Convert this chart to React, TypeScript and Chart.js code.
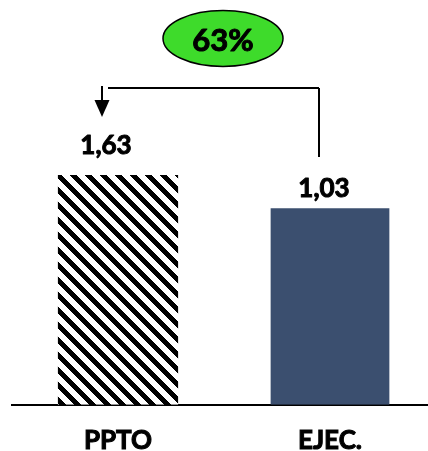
import React, { useEffect, useRef } from "react";
import { Chart, registerables } from "chart.js";

Chart.register(...registerables);

const categories = ["PPTO", "EJEC."];
const pptoValues = [1.63, null];
const ejecValues = [null, 1.03];
const valueLabels = ["1,63", "1,03"];

const FONT_FAMILY = "Lato";

function makeHatch(): CanvasPattern | string {
  const size = 15;
  const c = document.createElement("canvas");
  c.width = size;
  c.height = size;
  const ctx = c.getContext("2d");
  if (!ctx) return "#000";
  const img = ctx.createImageData(size, size);
  for (let y = 0; y < size; y++) {
    for (let x = 0; x < size; x++) {
      const k = (((x - y) % size) + size) % size;
      const black = k < 7;
      const i = (y * size + x) * 4;
      const v = black ? 0 : 255;
      img.data[i] = v;
      img.data[i + 1] = v;
      img.data[i + 2] = v;
      img.data[i + 3] = 255;
    }
  }
  ctx.putImageData(img, 0, 0);
  const main = document.createElement("canvas").getContext("2d");
  const p = main ? main.createPattern(c, "repeat") : null;
  return p || "#000";
}

function boldText(ctx: CanvasRenderingContext2D, t: string, x: number, y: number) {
  ctx.lineWidth = 1;
  ctx.strokeStyle = "#000";
  ctx.lineJoin = "round";
  ctx.strokeText(t, x, y);
  ctx.fillText(t, x, y);
}

const annotPlugin = {
  id: "annot",
  afterDraw(chart: any) {
    const ctx = chart.ctx;
    const xs = chart.scales.x;
    const xA = xs.getPixelForValue(0);
    const xB = xs.getPixelForValue(1);
    const m0 = chart.getDatasetMeta(0).data[0];
    const m1 = chart.getDatasetMeta(1).data[1];
    ctx.save();
    ctx.fillStyle = "#000";
    ctx.font = `bold 26px ${FONT_FAMILY}`;
    ctx.textAlign = "center";
    ctx.textBaseline = "alphabetic";
    if (m0) boldText(ctx, valueLabels[0], m0.x - 12, m0.y - 21);
    if (m1) boldText(ctx, valueLabels[1], m1.x - 6, m1.y - 11);

    // connector
    const lineY = 88;
    const arrowX = xA - 16;
    const vertX = xB - 11;
    ctx.strokeStyle = "#000";
    ctx.lineWidth = 2;
    ctx.beginPath();
    ctx.moveTo(arrowX + 6, lineY);
    ctx.lineTo(vertX, lineY);
    ctx.moveTo(vertX, lineY);
    ctx.lineTo(vertX, 157);
    ctx.moveTo(arrowX, lineY - 2);
    ctx.lineTo(arrowX, 102);
    ctx.stroke();
    ctx.beginPath();
    ctx.moveTo(arrowX - 7.5, 100);
    ctx.lineTo(arrowX + 7.5, 100);
    ctx.lineTo(arrowX, 117);
    ctx.closePath();
    ctx.fill();

    // ellipse
    const cx = (xA + xB) / 2 - 1;
    const cy = 38.5;
    ctx.beginPath();
    ctx.ellipse(cx, cy, 60, 28, 0, 0, Math.PI * 2);
    ctx.fillStyle = "#3EDB2B";
    ctx.fill();
    ctx.lineWidth = 1.5;
    ctx.strokeStyle = "#000";
    ctx.stroke();
    const pct = Math.round(((ejecValues[1] as number) / (pptoValues[0] as number)) * 100);
    ctx.fillStyle = "#000";
    ctx.font = `bold 31px ${FONT_FAMILY}`;
    ctx.textBaseline = "middle";
    boldText(ctx, pct + "%", cx, cy + 2);
    ctx.restore();
  },
};

export default function App() {
  const ref = useRef<HTMLCanvasElement>(null);
  useEffect(() => {
    if (!ref.current) return;
    const chart = new Chart(ref.current, {
      type: "bar",
      data: {
        labels: categories,
        datasets: [
          {
            label: "PPTO",
            data: pptoValues as any,
            backgroundColor: makeHatch() as any,
            yAxisID: "y",
            barPercentage: 0.567,
            categoryPercentage: 1,
          },
          {
            label: "EJEC.",
            data: ejecValues as any,
            backgroundColor: "#3B4F6F",
            yAxisID: "y2",
            barPercentage: 0.56,
            categoryPercentage: 1,
          },
        ],
      },
      options: {
        animation: false,
        responsive: false,
        maintainAspectRatio: false,
        layout: { padding: { top: 44, left: 12, right: 4, bottom: 0 } },
        plugins: { legend: { display: false }, tooltip: { enabled: false } },
        scales: {
          x: {
            stacked: true,
            grid: { display: false, drawTicks: false },
            border: { display: true, color: "#000", width: 2 },
            ticks: {
              padding: 20,
              color: "#000",
              textStrokeColor: "#000",
              textStrokeWidth: 1,
              font: { family: FONT_FAMILY, size: 26, weight: "bold" },
            } as any,
          },
          y: { display: false, min: 0, max: 2.559 },
          y2: { display: false, min: 0, max: 1.891 },
        },
      },
      plugins: [annotPlugin],
    });
    return () => chart.destroy();
  }, []);
  return (
    <div style={{ position: "absolute", left: 0, top: 0, width: 428, height: 451, overflow: "hidden", background: "#fff" }}>
      <canvas ref={ref} width={440} height={476} style={{ width: 440, height: 476 }} />
    </div>
  );
}
